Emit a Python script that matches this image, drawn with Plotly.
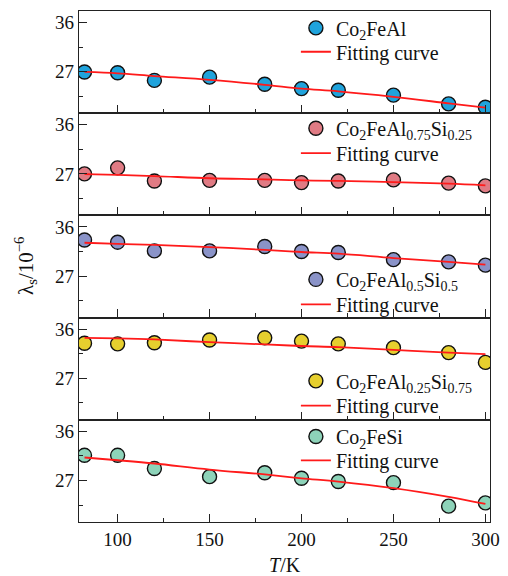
import plotly.graph_objects as go
from plotly.subplots import make_subplots

temps = [82, 100, 120, 150, 180, 200, 220, 250, 280, 300]

names = ["Co<sub>2</sub>FeAl",
         "Co<sub>2</sub>FeAl<sub>0.75</sub>Si<sub>0.25</sub>",
         "Co<sub>2</sub>FeAl<sub>0.5</sub>Si<sub>0.5</sub>",
         "Co<sub>2</sub>FeAl<sub>0.25</sub>Si<sub>0.75</sub>",
         "Co<sub>2</sub>FeSi"]
fit_label = "Fitting curve"

lam_fal = [26.95, 26.8, 25.4, 26.0, 24.7, 23.9, 23.6, 22.7, 21.1, 20.5]
lam_s25 = [27.0, 28.1, 25.7, 25.8, 25.8, 25.4, 25.7, 25.9, 25.3, 24.8]
lam_s50 = [33.6, 33.2, 31.6, 31.6, 32.4, 31.5, 31.3, 30.0, 29.6, 29.0]
lam_s75 = [33.4, 33.3, 33.5, 34.0, 34.4, 33.8, 33.3, 32.6, 31.7, 29.9]
lam_fsi = [31.6, 31.6, 29.2, 27.7, 28.4, 27.4, 26.8, 26.6, 22.3, 22.9]

fit_fal = [26.95, 26.7, 26.2, 25.5, 24.6, 23.9, 23.4, 22.4, 21.2, 20.4]
fit_s25 = [26.95, 26.8, 26.6, 26.2, 26.0, 25.8, 25.7, 25.5, 25.2, 24.9]
fit_s50 = [33.1, 32.9, 32.7, 32.3, 31.8, 31.4, 31.1, 30.3, 29.6, 29.1]
fit_s75 = [34.4, 34.3, 34.1, 33.6, 33.2, 32.9, 32.7, 32.2, 31.7, 31.4]
fit_fsi = [31.2, 30.7, 30.1, 29.0, 28.1, 27.4, 26.8, 25.6, 24.0, 22.7]

series = [lam_fal, lam_s25, lam_s50, lam_s75, lam_fsi]
fits = [fit_fal, fit_s25, fit_s50, fit_s75, fit_fsi]
colors = ["#1fa3dc", "#e07b84", "#8a93c8", "#e6cf2e", "#8dd3b9"]

y_ticks = [27, 36]
y_minor = [22.5, 31.5]
x_ticks = [100, 150, 200, 250, 300]

FONT = "Liberation Serif"
AX = "#222222"
TXT = "#111111"

fig = make_subplots(rows=5, cols=1, shared_xaxes=True, vertical_spacing=0)

L, T, W, H = 79, 8, 415, 514
# legend entry centre rows (pixels from top): (marker entry, fit entry)
leg_rows = [(25, 49), (126, 151), (278, 303), (380, 405), (436, 460)]
LEG_X = 298

legends = {}
n = 0
for i in range(5):
    k1 = "legend" if n == 0 else f"legend{n+1}"
    k2 = f"legend{n+2}"
    n += 2
    fig.add_trace(go.Scatter(
        x=temps, y=series[i], mode="markers", name=names[i], legend=k1,
        marker=dict(size=14, color=colors[i], line=dict(color="#111111", width=1.4)),
    ), row=i+1, col=1)
    fig.add_trace(go.Scatter(
        x=temps, y=fits[i], mode="lines", name=fit_label, legend=k2,
        line=dict(color="#ff1a1a", width=1.8, shape="spline"),
    ), row=i+1, col=1)
    for k, ypx in ((k1, leg_rows[i][0]), (k2, leg_rows[i][1])):
        legends[k] = dict(
            x=(LEG_X - L) / W, xanchor="left",
            y=1 - (ypx - T) / H, yanchor="middle",
            bgcolor="rgba(0,0,0,0)", borderwidth=0,
            font=dict(family=FONT, size=20, color=TXT),
        )

    fig.update_yaxes(range=[19.4, 38.1], tickvals=y_ticks, ticks="inside", ticklen=8,
                     tickwidth=1.2, tickcolor=AX, showline=True, linecolor=AX,
                     linewidth=1.4, mirror=True, showgrid=False, zeroline=False,
                     minor=dict(tickvals=y_minor, ticks="inside", ticklen=4,
                                tickwidth=1.2, tickcolor=AX),
                     tickfont=dict(family=FONT, size=19, color=TXT),
                     row=i+1, col=1)
    fig.update_xaxes(range=[79, 302.5], tickvals=x_ticks, ticks="inside", ticklen=8,
                     tickwidth=1.2, tickcolor=AX, showline=True, linecolor=AX,
                     linewidth=1.4, mirror=True, showgrid=False, zeroline=False,
                     minor=dict(dtick=25, tick0=0, ticks="inside", ticklen=4,
                                tickwidth=1.2, tickcolor=AX),
                     tickfont=dict(family=FONT, size=19, color=TXT),
                     showticklabels=(i == 4),
                     row=i+1, col=1)

fig.update_layout(
    width=508, height=576,
    margin=dict(l=L, r=508 - L - W, t=T, b=576 - T - H),
    paper_bgcolor="white", plot_bgcolor="white",
    showlegend=True,
    **legends,
)

fig.add_annotation(text="λ<sub>s</sub>/10<sup>−6</sup>", textangle=-90,
                   x=(25 - L) / W, xref="paper", xanchor="center",
                   y=0.5, yref="paper", yanchor="middle",
                   showarrow=False, font=dict(family=FONT, size=21, color=TXT))

fig.add_annotation(text="<i>T</i>/K", x=0.5, xref="paper", xanchor="center",
                   y=-(565 - T - H) / H, yref="paper", yanchor="middle",
                   showarrow=False, font=dict(family=FONT, size=20, color=TXT))

fig.write_html("out.html")
